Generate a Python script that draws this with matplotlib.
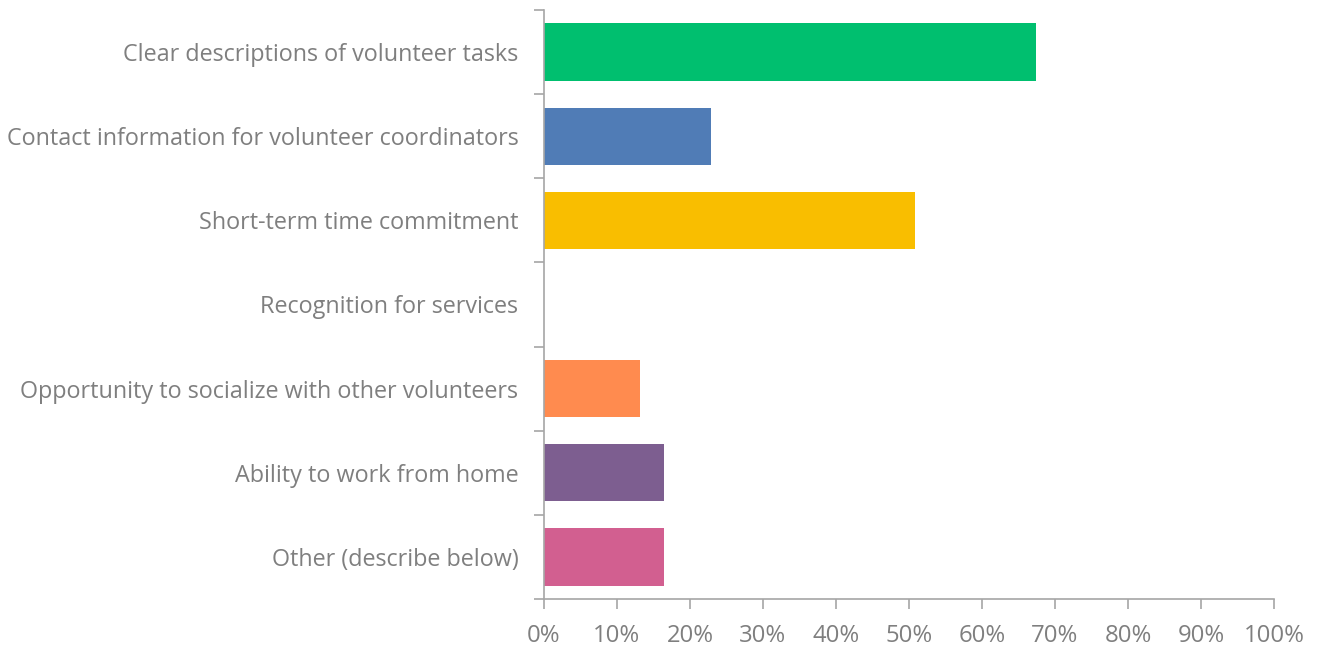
import matplotlib
matplotlib.use('Agg')
import matplotlib.pyplot as plt
from matplotlib.ticker import FuncFormatter

categories = [
    'Clear descriptions of volunteer tasks',
    'Contact information for volunteer coordinators',
    'Short-term time commitment',
    'Recognition for services',
    'Opportunity to socialize with other volunteers',
    'Ability to work from home',
    'Other (describe below)',
]
values = [67.4, 22.9, 50.8, 0.0, 13.1, 16.4, 16.4]
colors = ['#00BF6F', '#507CB6', '#F9BE00', '#E0E0E0', '#FF8B4F', '#7D5E90', '#D25F90']

text_color = '#7F7F7F'
axis_color = '#A6A6A6'

plt.rcParams['font.family'] = ['Open Sans', 'DejaVu Sans']

fig = plt.figure(figsize=(13.2, 6.48), dpi=100)
ax = fig.add_axes([0.4121, 0.0756, 0.5530, 0.9090])

pos = list(range(len(categories)))
ax.barh(pos, values, height=0.68, color=colors)

ax.set_ylim(len(categories) - 0.5, -0.5)
ax.set_xlim(0, 100)
ax.set_xticks(range(0, 101, 10))
ax.xaxis.set_major_formatter(FuncFormatter(lambda v, p: f'{int(v)}%'))

ax.set_yticks([p - 0.5 for p in pos] + [len(categories) - 0.5])
ax.set_yticklabels([])
ax.set_yticks(pos, minor=True)
ax.set_yticklabels(categories, minor=True)
ax.tick_params(axis='y', which='minor', length=0, pad=18.5, labelsize=16.8, labelcolor=text_color)
ax.tick_params(axis='y', which='major', length=7, width=1.2, color=axis_color, direction='out')
ax.tick_params(axis='x', length=7, width=1.2, color=axis_color, labelsize=17.2,
               labelcolor=text_color, pad=11)

for s in ['top', 'right']:
    ax.spines[s].set_visible(False)
for s in ['left', 'bottom']:
    ax.spines[s].set_color(axis_color)
    ax.spines[s].set_linewidth(1.2)

fig.savefig('out.png', dpi=100)
